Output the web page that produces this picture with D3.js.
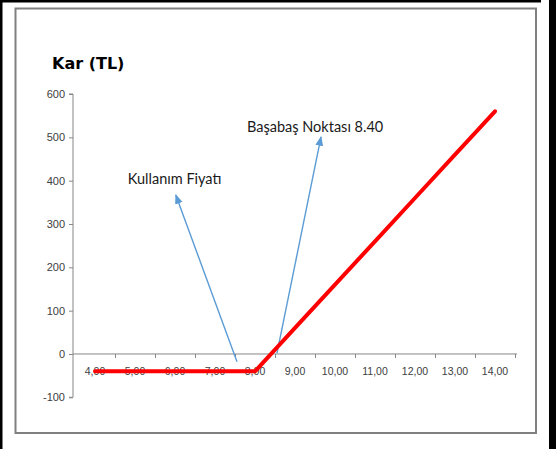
<!DOCTYPE html>
<html>
<head>
<meta charset="utf-8">
<script src="https://cdn.jsdelivr.net/npm/d3@7/dist/d3.min.js"></script>
<style>
  html, body { margin: 0; padding: 0; background: #fff; }
  svg { display: block; }
</style>
</head>
<body>
<svg id="chart" width="556" height="449"></svg>
<script>
// data
const prices = ['4,00', '5,00', '6,00', '7,00', '8,00', '9,00', '10,00', '11,00', '12,00', '13,00', '14,00']
const profit = [-40, -40, -40, -40, -40, 60, 160, 260, 360, 460, 560]
const yTicks = [-100, 0, 100, 200, 300, 400, 500, 600]
const title = 'Kar (TL)'
// notes: tail/head/at are [position along category axis (0 = left edge), value]
const notes = [
  { text: 'Kullanım Fiyatı', tail: [4.05, -18], head: [2.52, 367], at: [1.32, 392] },
  { text: 'Başabaş Noktası 8.40', tail: [5.05, 2], head: [6.15, 501], at: [4.3, 512] }
]

const svg = d3.select('#chart')

// outer black edges and grey frame
svg.append('rect').attr('x', 0).attr('y', 0).attr('width', 556).attr('height', 449).attr('fill', '#fff')
svg.append('rect').attr('x', 0).attr('y', 0).attr('width', 541).attr('height', 2.5).attr('fill', '#000')
svg.append('rect').attr('x', 0).attr('y', 0).attr('width', 2.5).attr('height', 449).attr('fill', '#000')
svg.append('rect').attr('x', 549).attr('y', 0).attr('width', 7).attr('height', 449).attr('fill', '#000')
svg.append('rect').attr('x', 15.5).attr('y', 8.5).attr('width', 520.5).attr('height', 424.5)
  .attr('fill', '#fff').attr('stroke', '#808080').attr('stroke-width', 2)

const x = d3.scaleBand().domain(prices).range([75, 515])
const xi = d3.scaleLinear().domain([0, prices.length]).range([75, 515])
const y = d3.scaleLinear().domain([-100, 600]).range([397.3, 94])
const cx = i => xi(i + 0.5)

svg.append('text').attr('x', 52).attr('y', 69)
  .attr('font-family', 'DejaVu Sans').attr('font-weight', 'bold').attr('font-size', 16)
  .attr('fill', '#000').text(title)

// y axis
const yAxis = svg.append('g').attr('transform', 'translate(73,0)')
  .call(d3.axisLeft(y).tickValues(yTicks).tickSize(4).tickPadding(4).tickFormat(d => String(d)))
yAxis.select('.domain').attr('stroke', '#868686').attr('d', `M-4,${y(-100)}H0V${y(600)}H-4`)
yAxis.selectAll('.tick line').attr('stroke', '#868686')
yAxis.selectAll('text').attr('font-family', 'Liberation Sans').attr('font-size', 11).attr('fill', '#404040')

// x axis crossing at 0, ticks between categories
const xAxis = svg.append('g').attr('transform', `translate(0,${y(0)})`)
  .call(d3.axisBottom(xi).tickValues(d3.range(1, prices.length + 1)).tickSize(4).tickFormat(''))
xAxis.select('.domain').attr('stroke', '#868686').attr('d', `M73,0H${xi(prices.length) + 2}`)
xAxis.selectAll('.tick line').attr('stroke', '#868686')

svg.append('g').selectAll('text').data(prices).join('text')
  .attr('x', d => x(d) + x.bandwidth() / 2)
  .attr('y', y(0) + 21.5)
  .attr('text-anchor', 'middle')
  .attr('font-family', 'Liberation Sans').attr('font-size', 10.5).attr('fill', '#404040')
  .text(d => d)

// arrows
svg.append('defs').append('marker')
  .attr('id', 'head').attr('viewBox', '0 0 10 10').attr('refX', 9).attr('refY', 5)
  .attr('markerWidth', 7).attr('markerHeight', 7).attr('orient', 'auto-start-reverse')
  .append('path').attr('d', 'M0,1L10,5L0,9Z').attr('fill', '#5b9bd5')

svg.append('g').selectAll('line').data(notes).join('line')
  .attr('x1', d => xi(d.tail[0])).attr('y1', d => y(d.tail[1]))
  .attr('x2', d => xi(d.head[0])).attr('y2', d => y(d.head[1]))
  .attr('stroke', '#5b9bd5').attr('stroke-width', 1.4)
  .attr('marker-end', 'url(#head)')

svg.append('g').selectAll('text').data(notes).join('text')
  .attr('x', d => xi(d.at[0])).attr('y', d => y(d.at[1]))
  .attr('font-family', 'Lato').attr('font-size', 14.5).attr('fill', '#1a1a1a')
  .text(d => d.text)

// profit line
const line = d3.line().x((d, i) => cx(i)).y(d => y(d))
svg.append('path').datum(profit)
  .attr('d', line)
  .attr('fill', 'none').attr('stroke', '#ff0000').attr('stroke-width', 4)
  .attr('stroke-linecap', 'round').attr('stroke-linejoin', 'round')
</script>
</body>
</html>
